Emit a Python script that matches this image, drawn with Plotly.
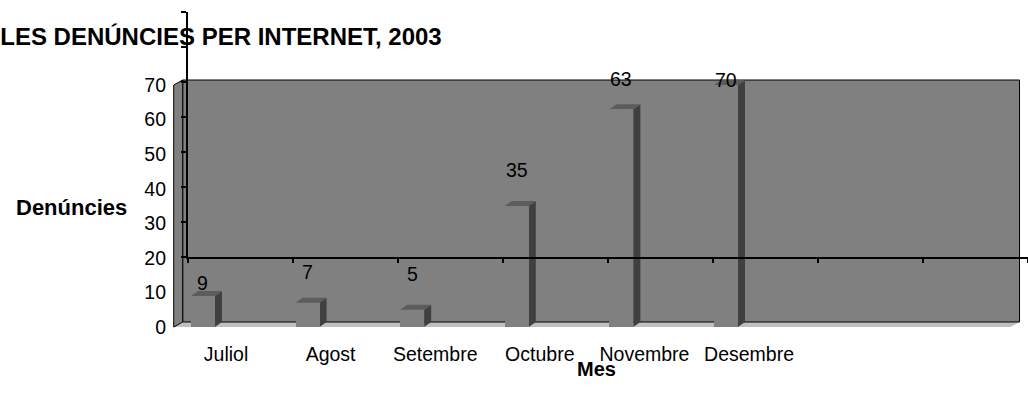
import plotly.graph_objects as go

# ---- data ----
months = ["Juliol", "Agost", "Setembre", "Octubre", "Novembre", "Desembre"]
denuncies = [9, 7, 5, 35, 63, 70]
y_ticks = [0, 10, 20, 30, 40, 50, 60, 70]
title_text = "LES DENÚNCIES PER INTERNET, 2003"
x_title = "Mes"
y_title = "Denúncies"

# ---- style ----
FONT = "Liberation Sans, Arial, sans-serif"
N_SLOTS = 8
BAR_OFFSET = -0.22
BAR_W = 0.229
DX, DV = 0.067, 1.45      # bar depth
WDX, WDV = 0.086, 1.45    # wall depth
label_shift = [13, 31, 36, 36, 30, 5]
FRONT = "#808080"
SIDE = "#404040"
TOP = "#5c5c5c"
WALL = "#808080"
FLOOR = "#c0c0c0"
YMAX = y_ticks[-1]

fig = go.Figure()

bar_x = [i + BAR_OFFSET for i in range(len(months))]
fig.add_trace(go.Bar(x=bar_x, y=denuncies, width=BAR_W, marker=dict(color=FRONT, line=dict(width=0)),
                     showlegend=False, hoverinfo="skip"))

# dummy trace for the decorative black axis pair
fig.add_trace(go.Scatter(x=[None], y=[None], xaxis="x2", yaxis="y2", showlegend=False, hoverinfo="skip"))

shapes = []
x_left = -0.5
x_right = N_SLOTS - 0.5
# floor
shapes.append(dict(type="path", xref="x", yref="y", layer="below",
                   path=f"M {x_left},0 L {x_right},0 L {x_right+WDX},{WDV} L {x_left+WDX},{WDV} Z",
                   fillcolor=FLOOR, line=dict(width=0)))
# back wall
shapes.append(dict(type="rect", xref="x", yref="y", layer="below",
                   x0=x_left + WDX, x1=x_right + WDX, y0=WDV, y1=YMAX + WDV,
                   fillcolor=WALL, line=dict(color="black", width=1)))
# side wall
shapes.append(dict(type="path", xref="x", yref="y", layer="below",
                   path=f"M {x_left},0 L {x_left},{YMAX} L {x_left+WDX},{YMAX+WDV} L {x_left+WDX},{WDV} Z",
                   fillcolor=WALL, line=dict(color="black", width=1)))
# bar side and top faces
for xc, v in zip(bar_x, denuncies):
    xl = xc - BAR_W / 2
    xr = xc + BAR_W / 2
    shapes.append(dict(type="path", xref="x", yref="y", layer="below",
                       path=f"M {xr},0 L {xr+DX},{DV} L {xr+DX},{v+DV} L {xr},{v} Z",
                       fillcolor=SIDE, line=dict(width=0)))
    shapes.append(dict(type="path", xref="x", yref="y", layer="below",
                       path=f"M {xl},{v} L {xl+DX},{v+DV} L {xr+DX},{v+DV} L {xr},{v} Z",
                       fillcolor=TOP, line=dict(width=0)))

annotations = []
for xc, v, s in zip(bar_x, denuncies, label_shift):
    annotations.append(dict(x=xc, y=v, xref="x", yref="y", text=str(v), showarrow=False,
                            yanchor="middle", yshift=s, font=dict(size=19.5, color="black", family=FONT)))

annotations.append(dict(x=(71 - 173) / 855, y=(340 - 207) / 328, xref="paper", yref="paper",
                        text=f"<b>{y_title}</b>", showarrow=False, xanchor="center", yanchor="middle",
                        font=dict(size=22, color="black", family=FONT)))
annotations.append(dict(x=(596 - 173) / 855, y=(340 - 369) / 328, xref="paper", yref="paper",
                        text=f"<b>{x_title}</b>", showarrow=False, xanchor="center", yanchor="middle",
                        font=dict(size=20, color="black", family=FONT)))

fig.update_layout(
    width=1028, height=401,
    margin=dict(l=173, r=0, t=12, b=61),
    paper_bgcolor="white", plot_bgcolor="rgba(0,0,0,0)",
    title=dict(text=f"<b>{title_text}</b>", xref="container", yref="container",
               x=221 / 1028, y=1 - 37 / 401, xanchor="center", yanchor="middle",
               font=dict(size=24, color="black", family=FONT)),
    xaxis=dict(range=[-0.5067, 7.667], showgrid=False, zeroline=False, showline=False, ticks="",
               tickvals=list(range(len(months))), ticktext=months,
               tickfont=dict(size=19.5, color="black", family=FONT)),
    yaxis=dict(range=[-3.76, 91.12], showgrid=False, zeroline=False, showline=False, ticks="",
               tickvals=y_ticks, ticklabelstandoff=6,
               tickfont=dict(size=19.5, color="black", family=FONT)),
    xaxis2=dict(domain=[(188 - 173) / 855, 1], anchor="y2", range=[0, N_SLOTS], tickvals=list(range(N_SLOTS + 1)),
                ticks="outside", ticklen=4, tickwidth=2, tickcolor="black", showline=True, linewidth=2,
                linecolor="black", showticklabels=False, showgrid=False, zeroline=False),
    yaxis2=dict(domain=[(340 - 257) / 328, 1], anchor="x2", range=[0, 7], tickvals=list(range(8)),
                ticks="outside", ticklen=5, tickwidth=2, tickcolor="black", showline=True, linewidth=2,
                linecolor="black", showticklabels=False, showgrid=False, zeroline=False),
    shapes=shapes,
    annotations=annotations,
    bargap=0,
)

fig.write_html("out.html", config={"displayModeBar": False})

# remove the default page margin so the figure sits at the window's top-left corner
with open("out.html", "r", encoding="utf-8") as f:
    html = f.read()
html = html.replace("<head>", "<head><style>html,body{margin:0;padding:0;overflow:hidden;}</style>", 1)
with open("out.html", "w", encoding="utf-8") as f:
    f.write(html)
